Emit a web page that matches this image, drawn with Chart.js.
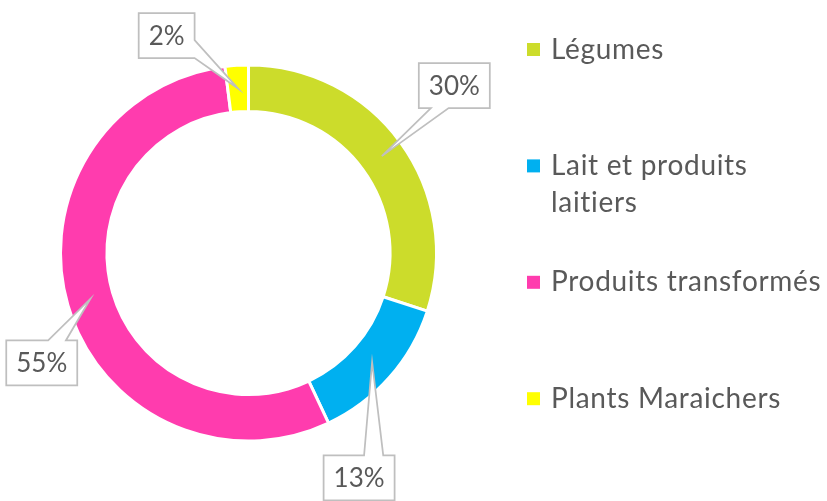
<!DOCTYPE html>
<html><head><meta charset="utf-8">
<script src="https://cdn.jsdelivr.net/npm/chart.js@4/dist/chart.umd.min.js"></script>
<style>html,body{margin:0;padding:0;background:#fff;}#wrap{width:827px;height:501px;position:relative}</style>
</head><body><div id="wrap"><canvas id="c" width="827" height="501"></canvas></div>
<script>
const categories = ['Légumes', 'Lait et produits laitiers', 'Produits transformés', 'Plants Maraichers'];
const values = [30, 13, 55, 2];
const colors = ['#CCDC2B', '#00B0F0', '#FF3CAE', '#FFFF00'];

const LABEL_FONT = "26px Lato, Carlito, 'Open Sans', sans-serif";
const LEGEND_FONT = "28px Lato, Carlito, 'Open Sans', sans-serif";
const TEXT = '#595959';

// callout placement (offset of box centre from the arc anchor) — style only
const calloutStyle = [
  {dx: 72.5, dy: -70.5, side: 'bottom', from: 0.17, to: 0.42},
  {dx: -13, dy: 116, side: 'top', from: 0.57, to: 0.84},
  {dx: -48.5, dy: 64, side: 'top', from: 0.59, to: 0.84},
  {dx: -71.5, dy: -53, side: 'right', from: 0.6, to: 1.0}
];

const calloutPlugin = {
  id: 'callouts',
  afterDatasetsDraw(chart) {
    const ctx = chart.ctx;
    const meta = chart.getDatasetMeta(0);
    const data = chart.data.datasets[0].data;
    const total = data.reduce((a, b) => a + b, 0);
    ctx.save();
    ctx.font = LABEL_FONT;
    meta.data.forEach((arc, i) => {
      const tip = arc.tooltipPosition();
      const st = calloutStyle[i];
      const txt = Math.round(data[i] / total * 100) + '%';
      const tw = ctx.measureText(txt).width;
      const w = tw + 20, h = 45;
      const cx = tip.x + st.dx, cy = tip.y + st.dy;
      const x0 = cx - w / 2, x1 = cx + w / 2, y0 = cy - h / 2, y1 = cy + h / 2;
      ctx.beginPath();
      ctx.moveTo(x0, y0);
      if (st.side === 'top') { ctx.lineTo(x0 + st.from * w, y0); ctx.lineTo(tip.x, tip.y); ctx.lineTo(x0 + st.to * w, y0); }
      ctx.lineTo(x1, y0);
      if (st.side === 'right') { ctx.lineTo(x1, y0 + st.from * h); ctx.lineTo(tip.x, tip.y); ctx.lineTo(x1, y0 + st.to * h); }
      ctx.lineTo(x1, y1);
      if (st.side === 'bottom') { ctx.lineTo(x0 + st.to * w, y1); ctx.lineTo(tip.x, tip.y); ctx.lineTo(x0 + st.from * w, y1); }
      ctx.lineTo(x0, y1);
      ctx.closePath();
      ctx.fillStyle = '#ffffff';
      ctx.fill();
      ctx.strokeStyle = '#BFBFBF';
      ctx.lineWidth = 1.75;
      ctx.lineJoin = 'miter';
      ctx.stroke();
      ctx.fillStyle = TEXT;
      ctx.textAlign = 'center';
      ctx.textBaseline = 'middle';
      ctx.fillText(txt, cx, cy + 1);
    });
    ctx.restore();
  }
};

const legendPlugin = {
  id: 'sideLegend',
  afterDraw(chart) {
    const ctx = chart.ctx;
    const ds = chart.data.datasets[0];
    ctx.save();
    ctx.font = LEGEND_FONT;
    if ('letterSpacing' in ctx) ctx.letterSpacing = '0.7px';
    ctx.textBaseline = 'middle';
    ctx.textAlign = 'left';
    const boxX = 527, textX = 551, startY = 49.5, step = 116.4, lineH = 37, maxW = 827 - textX - 2;
    chart.data.labels.forEach((lab, i) => {
      const y = startY + i * step;
      ctx.fillStyle = ds.backgroundColor[i];
      ctx.fillRect(boxX, y - 6.5, 13, 13);
      const words = lab.split(' ');
      const lines = [];
      let cur = '';
      words.forEach(wd => {
        const t = cur ? cur + ' ' + wd : wd;
        if (ctx.measureText(t).width > maxW && cur) { lines.push(cur); cur = wd; } else cur = t;
      });
      lines.push(cur);
      ctx.fillStyle = TEXT;
      lines.forEach((ln, k) => ctx.fillText(ln, textX, y + k * lineH));
    });
    ctx.restore();
  }
};

new Chart(document.getElementById('c'), {
  type: 'doughnut',
  data: {
    labels: categories,
    datasets: [{
      data: values,
      backgroundColor: colors,
      borderColor: '#ffffff',
      borderWidth: 3,
      hoverOffset: 0
    }]
  },
  options: {
    responsive: false,
    animation: false,
    radius: 188,
    cutout: '75.3%',
    layout: {padding: {left: 0, right: 330, top: 5, bottom: 0}},
    plugins: {legend: {display: false}, tooltip: {enabled: false}}
  },
  plugins: [calloutPlugin, legendPlugin]
});
</script>
</body></html>
